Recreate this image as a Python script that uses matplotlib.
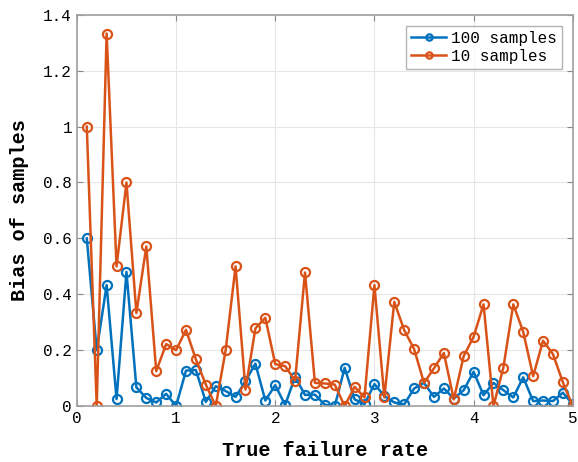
import numpy as np
import matplotlib.pyplot as plt

# True failure rate grid, 0.1 .. 5.0
rate = np.round(np.arange(1, 51) * 0.1, 1)

bias_100 = [0.60, 0.20, 0.433, 0.025, 0.48, 0.067, 0.029, 0.013, 0.044, 0.0,
            0.127, 0.129, 0.015, 0.071, 0.054, 0.033, 0.089, 0.152, 0.02, 0.075,
            0.004, 0.105, 0.04, 0.041, 0.005, 0.0, 0.137, 0.024, 0.007, 0.079,
            0.036, 0.013, 0.006, 0.063, 0.083, 0.033, 0.063, 0.027, 0.057, 0.123,
            0.039, 0.083, 0.057, 0.031, 0.103, 0.018, 0.02, 0.018, 0.048, 0.006]

bias_10 = [1.0, 0.0, 1.333, 0.5, 0.8, 0.333, 0.571, 0.125, 0.222, 0.2,
           0.273, 0.167, 0.077, 0.0, 0.2, 0.5, 0.059, 0.278, 0.316, 0.15,
           0.143, 0.091, 0.478, 0.083, 0.081, 0.077, 0.0, 0.069, 0.031, 0.433,
           0.031, 0.373, 0.272, 0.204, 0.083, 0.135, 0.19, 0.024, 0.179, 0.248,
           0.364, 0.0, 0.138, 0.364, 0.266, 0.107, 0.234, 0.186, 0.085, 0.0]

mono = 'Liberation Mono'
blue = '#0072BD'
orange = '#D95319'

fig = plt.figure(figsize=(5.78, 4.62), dpi=100)
ax = fig.add_axes([0.133, 0.121, 0.858, 0.847])

ax.plot(rate, bias_100, '-o', color=blue, lw=1.8, ms=6.5, mfc='none', mew=1.6,
        label='100 samples')
ax.plot(rate, bias_10, '-o', color=orange, lw=1.8, ms=6.5, mfc='none', mew=1.6,
        label='10 samples')

ax.set_xlim(0, 5)
ax.set_ylim(0, 1.4)
ax.set_xticks([0, 1, 2, 3, 4, 5])
ax.set_yticks([0, 0.2, 0.4, 0.6, 0.8, 1.0, 1.2, 1.4])
ax.set_yticklabels(['0', '0.2', '0.4', '0.6', '0.8', '1', '1.2', '1.4'])
ax.grid(True, color='#e6e6e6', lw=0.8)
ax.set_axisbelow(True)
ax.tick_params(direction='in', length=4, color='#888888', labelsize=11.5,
               top=True, right=True, labeltop=False, labelright=False)
for lab in ax.get_xticklabels() + ax.get_yticklabels():
    lab.set_fontfamily(mono)
for sp in ax.spines.values():
    sp.set_color('#a0a0a0')
    sp.set_linewidth(1.2)

ax.set_xlabel('True failure rate', fontfamily=mono, fontsize=14.5,
              fontweight='bold', labelpad=11)
ax.set_ylabel('Bias of samples', fontfamily=mono, fontsize=14.5,
              fontweight='bold', labelpad=10)

leg = ax.legend(loc='upper right', prop={'family': mono, 'size': 11.5},
                fancybox=False, edgecolor='#a0a0a0', handlelength=2.2,
                borderpad=0.3, labelspacing=0.2, handletextpad=0.3,
                markerscale=0.7, borderaxespad=0.7)
leg.get_frame().set_linewidth(1.0)

fig.savefig('out.png', dpi=100)
